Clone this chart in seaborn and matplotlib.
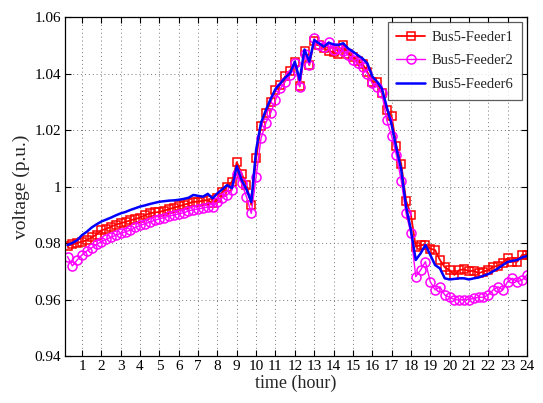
import numpy as np
import pandas as pd
import matplotlib
matplotlib.use('Agg')
import matplotlib.pyplot as plt
import seaborn as sns

# 15-minute samples over one day
hours = [0.25 * (i + 1) for i in range(96)]

feeder1 = [0.9790, 0.9795, 0.9800, 0.9805, 0.9810, 0.9820, 0.9830, 0.9845,
           0.9850, 0.9858, 0.9865, 0.9870, 0.9875, 0.9880, 0.9885, 0.9890,
           0.9898, 0.9905, 0.9908, 0.9910, 0.9915, 0.9920, 0.9925, 0.9930,
           0.9935, 0.9940, 0.9946, 0.9946, 0.9950, 0.9952, 0.9940, 0.9958,
           0.9980, 1.0000, 1.0017, 1.0086, 1.0046, 1.0005, 0.9935, 1.0100,
           1.0215, 1.0260, 1.0300, 1.0340, 1.0360, 1.0390, 1.0410, 1.0440,
           1.0355, 1.0480, 1.0430, 1.0515, 1.0500, 1.0490, 1.0480, 1.0475,
           1.0470, 1.0500, 1.0470, 1.0460, 1.0445, 1.0435, 1.0405, 1.0370,
           1.0370, 1.0330, 1.0270, 1.0250, 1.0145, 1.0080, 0.9950, 0.9900,
           0.9787, 0.9793, 0.9793, 0.9780, 0.9775, 0.9740, 0.9714, 0.9704,
           0.9687, 0.9704, 0.9707, 0.9700, 0.9702, 0.9693, 0.9699, 0.9704,
           0.9716, 0.9719, 0.9730, 0.9746, 0.9734, 0.9734, 0.9758, 0.9758]

feeder2 = [0.9752, 0.9719, 0.9740, 0.9758, 0.9772, 0.9783, 0.9795, 0.9805,
           0.9813, 0.9820, 0.9828, 0.9834, 0.9840, 0.9845, 0.9855, 0.9862,
           0.9868, 0.9874, 0.9880, 0.9886, 0.9890, 0.9895, 0.9899, 0.9903,
           0.9907, 0.9913, 0.9918, 0.9920, 0.9924, 0.9927, 0.9929, 0.9945,
           0.9960, 0.9970, 0.9987, 1.0046, 1.0011, 0.9964, 0.9905, 1.0035,
           1.0170, 1.0225, 1.0260, 1.0306, 1.0347, 1.0371, 1.0394, 1.0436,
           1.0353, 1.0470, 1.0430, 1.0524, 1.0500, 1.0495, 1.0512, 1.0483,
           1.0489, 1.0480, 1.0465, 1.0448, 1.0436, 1.0424, 1.0400, 1.0365,
           1.0353, 1.0330, 1.0235, 1.0180, 1.0111, 1.0020, 0.9905, 0.9834,
           0.9681, 0.9704, 0.9734, 0.9663, 0.9634, 0.9645, 0.9616, 0.9608,
           0.9600, 0.9598, 0.9600, 0.9600, 0.9604, 0.9608, 0.9608, 0.9616,
           0.9634, 0.9645, 0.9634, 0.9663, 0.9675, 0.9663, 0.9669, 0.9687]

feeder6 = [0.9793, 0.9800, 0.9810, 0.9828, 0.9840, 0.9855, 0.9866, 0.9876,
           0.9883, 0.9890, 0.9898, 0.9905, 0.9910, 0.9917, 0.9923, 0.9929,
           0.9933, 0.9938, 0.9942, 0.9946, 0.9948, 0.9950, 0.9951, 0.9953,
           0.9956, 0.9960, 0.9970, 0.9967, 0.9964, 0.9974, 0.9958, 0.9976,
           0.9990, 1.0005, 0.9994, 1.0072, 1.0023, 0.9990, 0.9945, 1.0130,
           1.0225, 1.0270, 1.0310, 1.0345, 1.0365, 1.0385, 1.0400, 1.0442,
           1.0377, 1.0485, 1.0442, 1.0518, 1.0507, 1.0495, 1.0509, 1.0503,
           1.0501, 1.0507, 1.0489, 1.0478, 1.0465, 1.0453, 1.0436, 1.0390,
           1.0371, 1.0347, 1.0282, 1.0220, 1.0135, 1.0060, 0.9929, 0.9846,
           0.9740, 0.9763, 0.9793, 0.9758, 0.9722, 0.9710, 0.9675, 0.9671,
           0.9673, 0.9675, 0.9675, 0.9671, 0.9675, 0.9678, 0.9684, 0.9690,
           0.9700, 0.9710, 0.9722, 0.9733, 0.9737, 0.9740, 0.9749, 0.9754]

x_ticks = list(range(1, 25))
y_ticks = [0.94, 0.96, 0.98, 1.00, 1.02, 1.04, 1.06]
y_tick_labels = ['0.94', '0.96', '0.98', '1', '1.02', '1.04', '1.06']

sns.set_style('ticks')
plt.rcParams['font.family'] = ['Liberation Serif', 'DejaVu Serif']

fig = plt.figure(figsize=(5.43, 4.03), dpi=100)
ax = fig.add_axes([0.1197, 0.1166, 0.8508, 0.8412])

sns.lineplot(x=hours, y=feeder1, ax=ax, color='red', lw=1.3, marker='s',
             markersize=6, markerfacecolor='none', markeredgecolor='red',
             markeredgewidth=1.1, label='Bus5-Feeder1')
sns.lineplot(x=hours, y=feeder2, ax=ax, color='magenta', lw=1.0, marker='o',
             markersize=6.5, markerfacecolor='none', markeredgecolor='magenta',
             markeredgewidth=1.1, label='Bus5-Feeder2')
sns.lineplot(x=hours, y=feeder6, ax=ax, color='blue', lw=1.8,
             label='Bus5-Feeder6')

ax.set_xlim(0.12, 24)
ax.set_ylim(0.94, 1.06)
ax.set_xticks(x_ticks)
ax.set_xticklabels([str(t) for t in x_ticks])
ax.set_yticks(y_ticks)
ax.set_yticklabels(y_tick_labels)
ax.grid(True, linestyle=(0, (1, 3)), color='#777777', linewidth=0.7)
ax.tick_params(direction='in', top=True, right=True, length=4, width=0.8,
               labelsize=11, pad=3, colors='black')
for s in ax.spines.values():
    s.set_color('black')
    s.set_linewidth(0.9)

ax.set_xlabel('time (hour)', fontsize=13, labelpad=1)
ax.set_ylabel('voltage (p.u.)', fontsize=14, labelpad=3)

leg = ax.legend(loc='upper right', fontsize=10.5, frameon=True, fancybox=False,
                handlelength=2.0, labelspacing=0.7, borderaxespad=0.35,
                borderpad=0.6, handletextpad=0.4)
leg.get_frame().set_edgecolor('#333333')
leg.get_frame().set_linewidth(0.9)

fig.savefig('out.png', dpi=100)
